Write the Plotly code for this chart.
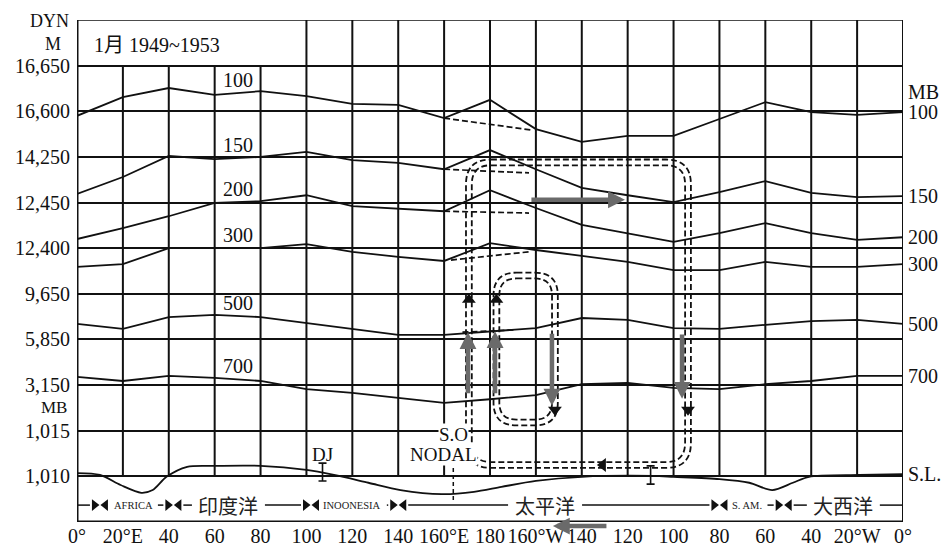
import numpy as np
import plotly.graph_objects as go

# ---------------------------------------------------------------------------
# Longitude grid (degrees east of Greenwich, 0..360) and axis labelling
# ---------------------------------------------------------------------------
lon = list(range(0, 361, 20))
x_ticktext = ["0°", "20°E", "40", "60", "80", "100", "120", "140", "160°E", "180",
              "160°W", "140", "120", "100", "80", "60", "40", "20°W", "0°"]

# Vertical scale: one grid row per reference level (row units)
y_tickvals = [1, 2, 3, 4, 5, 6, 7, 8, 9, 10]
y_ticktext = ["1,010", "1,015", "3,150", "5,850", "9,650",
              "12,400", "12,450", "14,250", "16,600", "16,650"]

# Isobaric surface profiles along the equator, January mean 1949~1953 (row units)
p100 = [8.90, 9.31, 9.51, 9.36, 9.44, 9.33, 9.16, 9.14, 8.85, 9.25,
        8.61, 8.33, 8.46, 8.46, 8.83, 9.20, 8.98, 8.92, 8.98]
p150 = [7.19, 7.56, 8.02, 7.95, 8.00, 8.11, 7.93, 7.87, 7.73, 8.15,
        7.73, 7.32, 7.16, 7.01, 7.23, 7.47, 7.21, 7.12, 7.14]
p200 = [6.20, 6.44, 6.70, 6.99, 7.03, 7.16, 6.92, 6.86, 6.81, 7.27,
        6.88, 6.51, 6.33, 6.14, 6.33, 6.55, 6.33, 6.18, 6.24]
p300 = [5.59, 5.65, 6.00, 6.00, 6.00, 6.09, 5.92, 5.81, 5.72, 6.11,
        5.96, 5.83, 5.70, 5.52, 5.52, 5.70, 5.59, 5.59, 5.65]
p500 = [4.34, 4.23, 4.49, 4.54, 4.49, 4.36, 4.23, 4.10, 4.10, 4.18,
        4.25, 4.47, 4.43, 4.25, 4.23, 4.32, 4.40, 4.43, 4.34]
p700 = [3.18, 3.09, 3.20, 3.16, 3.09, 2.91, 2.83, 2.72, 2.61, 2.69,
        2.78, 3.02, 3.05, 2.94, 2.91, 3.02, 3.09, 3.20, 3.20]
level_names = ["100", "150", "200", "300", "500", "700"]

# Alternative profiles between 160°E and 160°W that ignore the 180° ridge
alt_lon = [[160, 198], [160, 197], [160, 197], [163, 197], [168, 191]]
alt_val = [[8.85, 8.59], [7.73, 7.65], [6.81, 6.77], [5.74, 5.92], [4.16, 4.21]]

# Sea-level pressure profile
sl_lon = [0, 10, 19, 28, 33, 39, 48, 60, 80, 100, 112, 127, 141, 159, 173, 185,
          200, 220, 251, 260, 280, 293, 303, 312, 319, 341, 360]
sl_val = [1.07, 1.03, 0.81, 0.64, 0.70, 0.99, 1.21, 1.23, 1.23, 1.14, 1.03, 0.86,
          0.70, 0.61, 0.66, 0.77, 0.90, 0.99, 1.01, 0.99, 0.94, 0.86, 0.70, 0.86,
          0.99, 1.03, 1.05]

# Doldrum (DJ) range markers near sea level
dj_lon = [107, 250]
dj_mid = [1.095, 1.03]
dj_half = [0.195, 0.20]

# Nodal line of the Southern Oscillation
so_lon = 164
so_range = [0.48, 1.29]

# Walker-type circulation cells: west, east, bottom, top (centre of double line)
cell_west = [170.8, 182.8]
cell_east = [266.3, 208.3]
cell_bottom = [1.25, 2.18]
cell_top = [7.88, 5.40]

# Direction heads on the cells: lon, level, symbol
head_lon = [170.8, 182.8, 208.3, 266.3, 229.2]
head_val = [4.87, 4.87, 2.46, 2.46, 1.25]
head_sym = ["triangle-up", "triangle-up", "triangle-down", "triangle-down", "triangle-left"]

# Mean vertical / zonal motion (tail lon, tail level, tip lon, tip level)
flows = [
    (170.4, 2.79, 170.4, 4.16),
    (182.2, 2.79, 182.2, 4.18),
    (207.0, 4.16, 207.0, 2.55),
    (263.7, 4.14, 263.7, 2.70),
    (197.4, 7.06, 238.8, 7.06),
    (231.4, -0.09, 207.4, -0.09),
]

# Geographic regions along the equator
region_bounds = [10, 42, 102, 140, 280, 308]
region_names = ["AFRICA", "印度洋", "INOONESIA", "太平洋", "S. AM.", "大西洋"]
region_label_lon = [24.8, 66.0, 120.0, 204.0, 292.0, 334.0]

# ---------------------------------------------------------------------------
SERIF = "Liberation Serif, Times New Roman, serif"
CJK = "Noto Sans CJK SC, sans-serif"
INK = "#111111"
GREY = "#6a6a6a"

W, H = 944, 546
ML, MR, MT, MB_ = 77, 41, 20, 24
XR = [0, 360]
YR = [0, 11]
px_per_lon = (W - ML - MR) / (XR[1] - XR[0])
px_per_row = (H - MT - MB_) / (YR[1] - YR[0])

fig = go.Figure()

# isobaric profiles
profiles = [p100, p150, p200, p300, p500, p700]
for name, vals in zip(level_names, profiles):
    fig.add_trace(go.Scatter(x=lon, y=vals, mode="lines", name=name + " mb",
                             line=dict(color=INK, width=1.8), hoverinfo="skip"))
for xs, ys in zip(alt_lon, alt_val):
    fig.add_trace(go.Scatter(x=xs, y=ys, mode="lines",
                             line=dict(color=INK, width=1.7, dash="6px,3px"),
                             hoverinfo="skip"))

# sea level
fig.add_trace(go.Scatter(x=sl_lon, y=sl_val, mode="lines",
                         line=dict(color=INK, width=1.8, shape="spline", smoothing=0.8),
                         hoverinfo="skip"))

# DJ markers
fig.add_trace(go.Scatter(x=dj_lon, y=dj_mid, mode="markers",
                         marker=dict(size=1, color=INK),
                         error_y=dict(type="data", array=dj_half, symmetric=True,
                                      color=INK, thickness=1.6, width=4),
                         hoverinfo="skip"))

# SO nodal line
fig.add_trace(go.Scatter(x=[so_lon, so_lon], y=so_range, mode="lines",
                         line=dict(color=INK, width=1.5, dash="4px,3px"),
                         hoverinfo="skip"))

shapes = []

# grid: verticals (short ones under the title box), borders
for lo in lon[1:-1]:
    top = 10 if lo < 100 else 11
    shapes.append(dict(type="line", xref="x", yref="y", x0=lo, x1=lo, y0=1, y1=top,
                       line=dict(color=INK, width=2), layer="below"))
shapes.append(dict(type="line", xref="x", yref="y", x0=0, x1=360, y0=11, y1=11,
                   line=dict(color=INK, width=1.6), layer="below"))
shapes.append(dict(type="line", xref="x", yref="y", x0=0, x1=360, y0=0, y1=0,
                   line=dict(color=INK, width=3)))
shapes.append(dict(type="line", xref="x", yref="y", x0=360, x1=360, y0=0, y1=11,
                   line=dict(color=INK, width=2)))
shapes.append(dict(type="line", xref="x", yref="y", x0=0, x1=0, y0=0, y1=11.23,
                   line=dict(color=INK, width=3)))


def rounded_rect(x0, x1, y0, y1, rx, ry):
    return (f"M {x0 + rx},{y1} L {x1 - rx},{y1} Q {x1},{y1} {x1},{y1 - ry} "
            f"L {x1},{y0 + ry} Q {x1},{y0} {x1 - rx},{y0} "
            f"L {x0 + rx},{y0} Q {x0},{y0} {x0},{y0 + ry} "
            f"L {x0},{y1 - ry} Q {x0},{y1} {x0 + rx},{y1} Z")


# double dashed circulation cells
gap_px = 2.9
radius_px = [22, 20]
for i in range(len(cell_west)):
    rx = radius_px[i] / px_per_lon
    ry = radius_px[i] / px_per_row
    for s in (-1, 1):
        dx = s * gap_px / px_per_lon
        dy = s * gap_px / px_per_row
        path = rounded_rect(cell_west[i] - dx, cell_east[i] + dx,
                            cell_bottom[i] - dy, cell_top[i] + dy, rx + dx, ry + dy)
        shapes.append(dict(type="path", xref="x", yref="y", path=path,
                           line=dict(color=INK, width=1.8, dash="6px,3px")))

# cell direction heads
fig.add_trace(go.Scatter(x=head_lon, y=head_val, mode="markers",
                         marker=dict(symbol=head_sym, size=12, color=INK),
                         hoverinfo="skip"))

# region band along the bottom
band_y = 0.37
tri_off = 5.5 / px_per_lon
tri_half = 4.5 / px_per_lon
label_half_px = {"AFRICA": 19, "印度洋": 31.5, "INOONESIA": 29.5,
                 "太平洋": 32, "S. AM.": 15.5, "大西洋": 31.5}
pad = 5 / px_per_lon
seg_x, seg_y = [], []
n = len(region_bounds)
for i, name in enumerate(region_names):
    start = region_bounds[i]
    end = region_bounds[(i + 1) % n] + (360 if i == n - 1 else 0)
    c = region_label_lon[i]
    hw = label_half_px[name] / px_per_lon
    pieces = [(start + tri_off + tri_half, c - hw - pad), (c + hw + pad, end - tri_off - tri_half)]
    for a, b in pieces:
        if b - a > 0.5:
            if b > 360:
                seg_x += [a, 360, None, 0, b - 360, None]
                seg_y += [band_y, band_y, None, band_y, band_y, None]
            else:
                seg_x += [a, b, None]
                seg_y += [band_y, band_y, None]
fig.add_trace(go.Scatter(x=seg_x, y=seg_y, mode="lines",
                         line=dict(color=INK, width=1.5), hoverinfo="skip"))
tx, ty, ts = [], [], []
for b in region_bounds:
    tx += [b - tri_off, b + tri_off]
    ty += [band_y, band_y]
    ts += ["triangle-right", "triangle-left"]
fig.add_trace(go.Scatter(x=tx, y=ty, mode="markers",
                         marker=dict(symbol=ts, size=10, color=INK), hoverinfo="skip"))

annotations = []
for name, c in zip(region_names, region_label_lon):
    cjk = not name.isascii()
    annotations.append(dict(x=c, y=band_y, xref="x", yref="y", text=name, showarrow=False,
                            font=dict(family=CJK if cjk else SERIF,
                                      size=20 if cjk else 10.5, color="#222")))

# flow arrows (the one along the bottom edge is placed in paper units)
for x0, y0, x1, y1 in flows:
    if YR[0] <= y1 <= YR[1]:
        annotations.append(dict(x=x1, y=y1, ax=x0, ay=y0, xref="x", yref="y",
                                axref="x", ayref="y", text="", showarrow=True,
                                arrowhead=2, arrowsize=0.75, arrowwidth=4.5,
                                arrowcolor=GREY, standoff=0, startstandoff=0))
    else:
        annotations.append(dict(x=x1, y=(y1 - YR[0]) / (YR[1] - YR[0]), ax=x0,
                                ay=-(y0 - y1) * px_per_row, xref="x", yref="paper",
                                axref="x", ayref="pixel", text="", showarrow=True,
                                arrowhead=2, arrowsize=0.75, arrowwidth=4.5,
                                arrowcolor=GREY, standoff=0, startstandoff=0))

# level labels inside the chart and at the right edge
for name, vals in zip(level_names, profiles):
    annotations.append(dict(x=70, y=float(np.interp(70, lon, vals)), xref="x", yref="y",
                            text=name, showarrow=False, yanchor="bottom", yshift=0,
                            font=dict(family=SERIF, size=20, color=INK)))
    annotations.append(dict(x=360, y=vals[-1], xref="x", yref="y", text=name,
                            showarrow=False, xanchor="left", xshift=3,
                            font=dict(family=SERIF, size=20, color=INK)))
annotations.append(dict(x=360, y=sl_val[-1], xref="x", yref="y", text="S.L.",
                        showarrow=False, xanchor="left", xshift=3,
                        font=dict(family=SERIF, size=20, color=INK)))
annotations.append(dict(x=360, y=9.43, xref="x", yref="y", text="MB",
                        showarrow=False, xanchor="left", xshift=3,
                        font=dict(family=SERIF, size=20, color=INK)))

# left-hand unit captions
annotations.append(dict(x=0, y=10.98, xref="x", yref="y", text="DYN", showarrow=False,
                        xanchor="right", xshift=-6, font=dict(family=SERIF, size=18, color=INK)))
annotations.append(dict(x=0, y=10.48, xref="x", yref="y", text="M", showarrow=False,
                        xanchor="right", xshift=-14, font=dict(family=SERIF, size=18, color=INK)))
annotations.append(dict(x=0, y=2.50, xref="x", yref="y", text="MB", showarrow=False,
                        xanchor="right", xshift=-8, font=dict(family=SERIF, size=17, color=INK)))

# title in the upper-left box
annotations.append(dict(x=6.5, y=10.45, xref="x", yref="y", text="1月 1949~1953",
                        showarrow=False, xanchor="left",
                        font=dict(family=SERIF + ", " + CJK, size=20, color=INK)))

# point labels
annotations.append(dict(x=107.2, y=1.47, xref="x", yref="y", text="DJ", showarrow=False,
                        font=dict(family=SERIF, size=19, color=INK)))
annotations.append(dict(x=164, y=1.91, xref="x", yref="y", text="S.O", showarrow=False,
                        bgcolor="white", borderpad=0,
                        font=dict(family=SERIF, size=19, color=INK)))
annotations.append(dict(x=159.7, y=1.47, xref="x", yref="y", text="NODAL", showarrow=False,
                        bgcolor="white", borderpad=0,
                        font=dict(family=SERIF, size=19, color=INK)))

fig.update_layout(
    width=W, height=H,
    margin=dict(l=ML, r=MR, t=MT, b=MB_, pad=0),
    paper_bgcolor="white", plot_bgcolor="white",
    showlegend=False,
    shapes=shapes, annotations=annotations,
    xaxis=dict(range=XR, tickvals=lon, ticktext=x_ticktext, showgrid=False,
               zeroline=False, showline=False, ticks="", ticklabelstandoff=0,
               automargin=False,
               tickfont=dict(family=SERIF, size=20, color=INK)),
    yaxis=dict(range=YR, tickvals=y_tickvals, ticktext=y_ticktext, showgrid=True,
               gridcolor=INK, gridwidth=2, zeroline=False, showline=False,
               ticks="", ticklabelstandoff=6, automargin=False,
               tickfont=dict(family=SERIF, size=20, color=INK)),
)

fig.write_html("out.html")
